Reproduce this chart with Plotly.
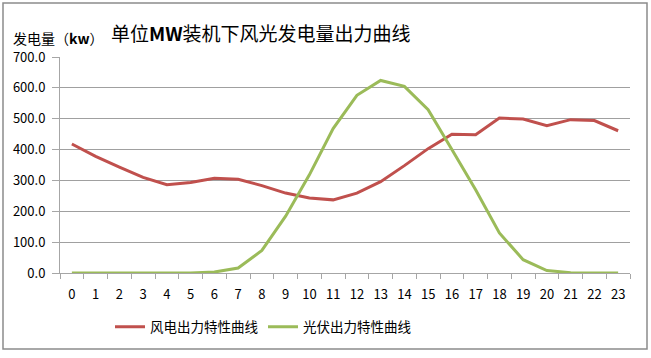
import plotly.graph_objects as go

hours = list(range(24))
hour_labels = [str(h) for h in hours]
wind = [418, 378, 343, 310, 286, 293, 307, 304, 283, 259, 243, 237,
        259, 296, 348, 403, 450, 448, 502, 499, 477, 497, 494, 461]
solar = [0, 0, 0, 0, 0, 0, 3, 16, 73, 184, 318, 468,
         576, 624, 605, 529, 400, 270, 130, 43, 8, 1, 0, 0]
y_ticks = [0, 100, 200, 300, 400, 500, 600, 700]

FONT = "Noto Sans CJK SC, Noto Sans, sans-serif"

fig = go.Figure()
fig.add_trace(go.Scatter(x=hour_labels, y=wind, mode="lines", name="风电出力特性曲线",
                         line=dict(color="#c0504d", width=3)))
fig.add_trace(go.Scatter(x=hour_labels, y=solar, mode="lines", name="光伏出力特性曲线",
                         line=dict(color="#9bbb59", width=3)))

L, R, T, B = 60, 21, 57, 85
W, H = 651, 358
pw, ph = W - L - R, H - T - B

def px_x(x):
    return (x - L) / pw

def px_y(y):
    return (H - B - y) / ph

fig.update_layout(
    width=W, height=H,
    margin=dict(l=L, r=R, t=T, b=B),
    paper_bgcolor="white", plot_bgcolor="white",
    font=dict(family=FONT, color="#000000", size=13),
    showlegend=True,
    legend=dict(orientation="h", x=px_x(263), xanchor="center", y=px_y(327), yanchor="middle",
                font=dict(size=13.5, family=FONT), itemwidth=30, bgcolor="rgba(0,0,0,0)"),
    xaxis=dict(type="category", showgrid=False, showline=True, linecolor="#a6a6a6", linewidth=1,
               ticks="outside", ticklen=5, tickcolor="#a6a6a6", tickson="boundaries",
               tickfont=dict(size=13), range=[-0.5, 23.5], fixedrange=True,
               ticklabelstandoff=9),
    yaxis=dict(range=[0, 700], tickvals=y_ticks, tickformat=".1f", showgrid=True,
               gridcolor="#a0a0a0", gridwidth=1, showline=True, linecolor="#a6a6a6",
               ticks="outside", ticklen=7, tickcolor="#a6a6a6", tickfont=dict(size=13),
               zeroline=False, fixedrange=True, ticklabelstandoff=4),
)

fig.add_annotation(text="单位<b>MW</b>装机下风光发电量出力曲线", xref="paper", yref="paper",
                   x=px_x(261), y=px_y(32), xanchor="center", yanchor="middle",
                   showarrow=False, font=dict(size=19, family=FONT, color="#000000"))
fig.add_annotation(text="发电量（<b>kw</b>）", xref="paper", yref="paper",
                   x=px_x(11), y=px_y(38), xanchor="left", yanchor="middle",
                   showarrow=False, font=dict(size=14, family=FONT, color="#000000"))

fig.add_shape(type="rect", xref="paper", yref="paper",
              x0=px_x(3), x1=px_x(647), y0=px_y(349), y1=px_y(3),
              line=dict(color="#8c8c8c", width=1.5), layer="below")

fig.write_html("out.html", config={"displayModeBar": False},
               post_script="document.body.style.margin='0';document.body.style.overflow='hidden';")
